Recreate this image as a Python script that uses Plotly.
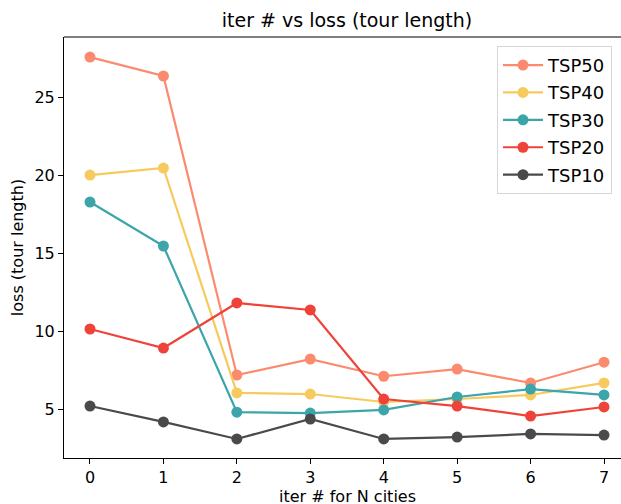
import plotly.graph_objects as go

iters = [0, 1, 2, 3, 4, 5, 6, 7]
series_names = ["TSP50", "TSP40", "TSP30", "TSP20", "TSP10"]
tsp50 = [27.56, 26.35, 7.18, 8.2, 7.1, 7.56, 6.67, 8.0]
tsp40 = [20.0, 20.45, 6.03, 5.96, 5.45, 5.64, 5.9, 6.67]
tsp30 = [18.27, 15.45, 4.8, 4.74, 4.94, 5.77, 6.28, 5.9]
tsp20 = [10.13, 8.91, 11.8, 11.35, 5.64, 5.19, 4.55, 5.13]
tsp10 = [5.19, 4.17, 3.08, 4.36, 3.08, 3.2, 3.4, 3.33]
colors = ["#FC8A6F", "#F7CA5E", "#3BA5A9", "#EF4339", "#4A4A4A"]
y_ticks = [5, 10, 15, 20, 25]

fig = go.Figure()
for name, vals, c in zip(series_names, [tsp50, tsp40, tsp30, tsp20, tsp10], colors):
    fig.add_trace(go.Scatter(
        x=iters, y=vals, name=name, mode="lines+markers",
        line=dict(color=c, width=2.2),
        marker=dict(color=c, size=11),
        legendgroup=name,
    ))

font = "DejaVu Sans, sans-serif"
W = 630
fig.update_layout(
    width=W, height=504,
    margin=dict(l=64, r=0, t=37, b=46, autoexpand=False),
    paper_bgcolor="white", plot_bgcolor="white",
    font=dict(family=font, size=16, color="black"),
    title=dict(text="iter # vs loss (tour length)", x=347/W, xanchor="center",
               y=1-20/504, yanchor="middle", font=dict(size=19, family=font),
               automargin=False),
    showlegend=True,
    legend=dict(x=(612-64)/(W-64), xanchor="right", y=0.979, yanchor="top",
                font=dict(size=18, family=font),
                bordercolor="#d6d6d6", borderwidth=1, bgcolor="white",
                tracegroupgap=1, itemwidth=40),
    xaxis=dict(range=[-0.354, 7.354], tickvals=iters, showgrid=False, zeroline=False,
               showline=True, linecolor="black", linewidth=1, mirror=False,
               ticks="outside", ticklen=5, tickcolor="black", automargin=False),
    yaxis=dict(range=[1.859, 28.85], tickvals=y_ticks, showgrid=False, zeroline=False,
               showline=True, linecolor="black", linewidth=1, automargin=False,
               ticks="outside", ticklen=5, tickcolor="black",
               title=dict(text="loss (tour length)", standoff=6, font=dict(size=16))),
    shapes=[dict(type="line", xref="paper", yref="paper", x0=0, x1=1, y0=1, y1=1,
                 line=dict(color="black", width=1))],
    annotations=[dict(text="iter # for N cities", xref="paper", yref="paper",
                      x=0.5, y=(458-496)/421, xanchor="center", yanchor="middle",
                      showarrow=False, font=dict(size=16, family=font))],
)
fig.write_html("out.html", config={"displayModeBar": False},
               post_script="document.body.style.margin='0';document.body.style.overflow='hidden';")
